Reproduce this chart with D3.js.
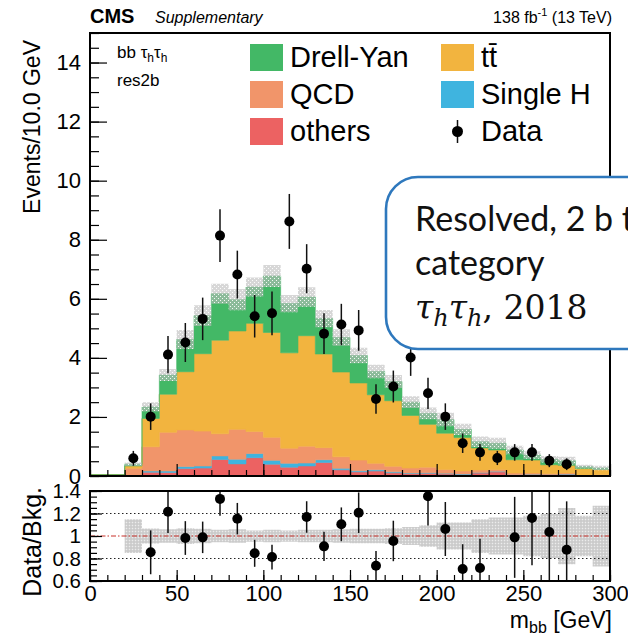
<!DOCTYPE html>
<html>
<head>
<meta charset="utf-8">
<script src="https://cdn.jsdelivr.net/npm/d3@7"></script>
<style>
  body { margin: 0; background: #fff; }
  svg { display: block; font-family: "Liberation Sans", Arial, sans-serif; }
</style>
</head>
<body>
<svg id="chart"></svg>
<script>
// bins of m_bb (lower edges, GeV), 10 GeV wide
const binLow = [0, 10, 20, 30, 40, 50, 60, 70, 80, 90, 100, 110, 120, 130, 140,
                150, 160, 170, 180, 190, 200, 210, 220, 230, 240, 250, 260, 270, 280, 290];

// background contributions per bin (events / 10 GeV)
const others   = [0.04, 0.04, 0.02, 0.13, 0.12, 0.25, 0.27, 0.56, 0.41, 0.62, 0.40, 0.30, 0.34, 0.46, 0.21,
                  0.14, 0.17, 0.11, 0.08, 0.09, 0.07, 0.05, 0.10, 0.14, 0.03, 0.05, 0.04, 0.06, 0.01, 0.02];
const singleH  = [0, 0, 0, 0.04, 0.05, 0.07, 0.07, 0.12, 0.16, 0.14, 0.13, 0.13, 0.10, 0.09, 0.05,
                  0.04, 0.04, 0.03, 0.02, 0.02, 0.02, 0.02, 0.02, 0.02, 0.01, 0.01, 0.01, 0.01, 0, 0];
const qcd      = [0, 0, 0.24, 0.82, 1.31, 1.24, 1.18, 0.75, 1.01, 0.75, 0.78, 0.51, 0.57, 0.41, 0.39,
                  0.36, 0.22, 0.19, 0.17, 0.19, 0.13, 0.10, 0.08, 0.06, 0.06, 0.04, 0.03, 0.03, 0.02, 0.02];
const ttbar    = [0, 0, 0.08, 0.96, 1.29, 1.97, 2.62, 3.17, 3.33, 3.66, 3.55, 3.23, 3.74, 3.17, 2.87,
                  2.61, 2.32, 2.22, 1.78, 1.45, 1.23, 1.13, 0.75, 0.66, 0.45, 0.44, 0.30, 0.26, 0.22, 0.18];
const drellYan = [0, 0, 0.06, 0.39, 0.65, 1.09, 1.29, 1.57, 1.06, 1.23, 1.91, 1.67, 1.31, 1.20, 1.17,
                  0.93, 0.79, 0.65, 0.45, 0.37, 0.46, 0.28, 0.21, 0.23, 0.33, 0.17, 0.19, 0.16, 0.07, 0.05];

// relative background uncertainty
const bkgRelUnc = [null, null, 0.15, 0.066, 0.06, 0.07, 0.065, 0.055, 0.06, 0.05, 0.055, 0.05, 0.055, 0.055, 0.06,
                   0.065, 0.065, 0.07, 0.08, 0.095, 0.12, 0.12, 0.15, 0.165, 0.165, 0.18, 0.195, 0.25, 0.18, 0.27];

// observed data
const dataVal = [null, null, 0.60, 2.01, 4.11, 4.52, 5.32, 8.14, 6.82, 5.41, 5.51, 8.62, 7.02, 4.82, 5.13,
                 4.93, 2.61, 3.03, 4.01, 2.80, 2.01, 1.11, 0.80, 0.61, 0.80, 0.80, 0.52, 0.40, null, null];
const dataErr = [null, null, 0.25, 0.45, 0.63, 0.66, 0.72, 0.89, 0.81, 0.72, 0.74, 0.93, 0.83, 0.69, 0.70,
                 0.69, 0.50, 0.54, 0.62, 0.53, 0.45, 0.33, 0.28, 0.24, 0.28, 0.28, 0.22, 0.20, null, null];

// data / background (points outside the pad are not drawn)
const ratioVal = [null, null, null, 0.855, 1.216, 0.982, 0.988, 1.33, 1.154, 0.846, 0.813, null, 1.169, 0.908, 1.104,
                  1.207, 0.736, 0.956, null, 1.353, 1.062, 0.707, 0.716, null, 0.988, 1.16, 1.036, 0.878, null, null];
const ratioErr = [null, null, null, 0.195, 0.19, 0.15, 0.14, 0.15, 0.14, 0.12, 0.11, null, 0.14, 0.13, 0.15,
                  0.18, 0.13, 0.18, null, 0.26, 0.24, 0.22, 0.26, null, 0.36, 0.42, 0.45, 0.43, null, null];

// axis ticks
const yTicks = [0, 2, 4, 6, 8, 10, 12, 14];
const xTicks = [0, 50, 100, 150, 200, 250, 300];
const ratioTicks = [0.6, 0.8, 1, 1.2, 1.4];
const ratioTickLabels = ["0.6", "0.8", "1", "1.2", "1.4"];

const seriesKeys = ["others", "singleH", "qcd", "ttbar", "drellYan"];
const seriesColor = {
    others: "#ec6262",
    singleH: "#3fb4df",
    qcd: "#f1956a",
    ttbar: "#f2b43f",
    drellYan: "#43b866"
};

const width = 628, height = 638;
const svg = d3.select("#chart").attr("width", width).attr("height", height);
svg.append("rect").attr("width", width).attr("height", height).attr("fill", "#fff");

const frame = { left: 90, right: 610, top: 33, bottom: 476 };
const rFrame = { top: 491, bottom: 581 };

const x = d3.scaleLinear().domain([0, 300]).range([frame.left, frame.right]);
const y = d3.scaleLinear().domain([0, 15]).range([frame.bottom, frame.top]);
const yr = d3.scaleLinear().domain([0.6, 1.4]).range([rFrame.bottom, rFrame.top]);

// patterns for the uncertainty bands
const defs = svg.append("defs");
const pat = defs.append("pattern").attr("id", "unc")
    .attr("width", 4).attr("height", 4).attr("patternUnits", "userSpaceOnUse");
pat.append("rect").attr("width", 4).attr("height", 4).attr("fill", "#bdbdbd").attr("opacity", 0.6);
pat.append("rect").attr("x", 0).attr("y", 0).attr("width", 1).attr("height", 1).attr("fill", "#fff").attr("opacity", 0.9);
pat.append("rect").attr("x", 2).attr("y", 2).attr("width", 1).attr("height", 1).attr("fill", "#fff").attr("opacity", 0.9);
const patR = defs.append("pattern").attr("id", "uncR")
    .attr("width", 3).attr("height", 3).attr("patternUnits", "userSpaceOnUse");
patR.append("rect").attr("width", 3).attr("height", 3).attr("fill", "#d2d2d2");
patR.append("rect").attr("x", 0).attr("y", 0).attr("width", 1).attr("height", 1).attr("fill", "#ececec");
patR.append("rect").attr("x", 1.5).attr("y", 1.5).attr("width", 1).attr("height", 1).attr("fill", "#b8b8b8");

defs.append("clipPath").attr("id", "clipR").append("rect")
    .attr("x", frame.left).attr("y", rFrame.top)
    .attr("width", frame.right - frame.left).attr("height", rFrame.bottom - rFrame.top);
defs.append("clipPath").attr("id", "clipM").append("rect")
    .attr("x", frame.left).attr("y", frame.top)
    .attr("width", frame.right - frame.left).attr("height", frame.bottom - frame.top);

// Stack the backgrounds
const table = binLow.map((lo, i) => ({
    lo, hi: lo + 10,
    others: others[i], singleH: singleH[i], qcd: qcd[i], ttbar: ttbar[i], drellYan: drellYan[i]
}));
const stacked = d3.stack().keys(seriesKeys)(table);

const stepArea = d3.area()
    .defined(p => p.ok)
    .x(p => x(p.x))
    .y0(p => y(p.y0))
    .y1(p => y(p.y1));

const stepPoints = layer => layer.flatMap(d => [
    { x: d.data.lo, y0: d[0], y1: d[1], ok: true },
    { x: d.data.hi, y0: d[0], y1: d[1], ok: true }
]);

const main = svg.append("g").attr("clip-path", "url(#clipM)");
main.selectAll("path.layer")
    .data(stacked)
    .join("path")
    .attr("class", "layer")
    .attr("fill", d => seriesColor[d.key])
    .attr("stroke", d => seriesColor[d.key])
    .attr("stroke-width", 0.6)
    .attr("d", d => stepArea(stepPoints(d)));

// uncertainty band on total background
const totals = stacked[stacked.length - 1].map(d => d[1]);
const bandPts = binLow.flatMap((lo, i) => {
    const u = bkgRelUnc[i];
    const ok = u != null;
    const t = totals[i];
    return [
        { x: lo, y0: ok ? t * (1 - u) : 0, y1: ok ? t * (1 + u) : 0, ok },
        { x: lo + 10, y0: ok ? t * (1 - u) : 0, y1: ok ? t * (1 + u) : 0, ok }
    ];
});
main.append("path").attr("fill", "url(#unc)").attr("d", stepArea(bandPts));

// data points
const dataPts = binLow.map((lo, i) => ({ xc: lo + 5, v: dataVal[i], e: dataErr[i] })).filter(d => d.v != null);
const dataG = main.append("g");
dataG.selectAll("line")
    .data(dataPts)
    .join("line")
    .attr("x1", d => x(d.xc)).attr("x2", d => x(d.xc))
    .attr("y1", d => y(d.v - d.e)).attr("y2", d => y(d.v + d.e))
    .attr("stroke", "#111").attr("stroke-width", 1.5);
dataG.selectAll("circle")
    .data(dataPts)
    .join("circle")
    .attr("cx", d => x(d.xc)).attr("cy", d => y(d.v))
    .attr("r", 5).attr("fill", "#000");

// Main axes (ticks pointing inward)
const tickFont = 22;
svg.append("g").attr("class", "ax-main").attr("transform", `translate(${frame.left},0)`)
    .call(d3.axisLeft(y).tickValues(yTicks).tickSizeInner(-17).tickSizeOuter(0).tickPadding(9));
svg.append("g").attr("transform", `translate(${frame.left},0)`)
    .call(d3.axisLeft(y).tickValues(d3.range(0, 15.01, 0.5)).tickSizeInner(-9).tickSizeOuter(0).tickFormat(""));
svg.append("g").attr("transform", `translate(0,${frame.bottom})`)
    .call(d3.axisBottom(x).tickValues(xTicks).tickSizeInner(-12).tickSizeOuter(0).tickFormat(""));
svg.append("g").attr("transform", `translate(0,${frame.bottom})`)
    .call(d3.axisBottom(x).tickValues(d3.range(0, 301, 10)).tickSizeInner(-6).tickSizeOuter(0).tickFormat(""));

// Ratio pad
const ratio = svg.append("g");
const rBandPts = binLow.flatMap((lo, i) => {
    const u = bkgRelUnc[i];
    const ok = u != null;
    return [
        { x: lo, y0: ok ? 1 - u : 1, y1: ok ? 1 + u : 1, ok },
        { x: lo + 10, y0: ok ? 1 - u : 1, y1: ok ? 1 + u : 1, ok }
    ];
});
ratio.append("path")
    .attr("clip-path", "url(#clipR)")
    .attr("fill", "url(#uncR)")
    .attr("d", d3.area().defined(p => p.ok).x(p => x(p.x)).y0(p => yr(p.y0)).y1(p => yr(p.y1))(rBandPts));

[0.8, 1.2].forEach(v => {
    ratio.append("line")
        .attr("x1", frame.left).attr("x2", frame.right)
        .attr("y1", yr(v)).attr("y2", yr(v))
        .attr("stroke", "#222").attr("stroke-width", 1).attr("stroke-dasharray", "1.5,2.5");
});
ratio.append("line")
    .attr("x1", frame.left).attr("x2", frame.right)
    .attr("y1", yr(1)).attr("y2", yr(1))
    .attr("stroke", "#c8302a").attr("stroke-width", 1).attr("stroke-dasharray", "5,2,1.5,2");

const rPts = binLow.map((lo, i) => ({ xc: lo + 5, v: ratioVal[i], e: ratioErr[i] })).filter(d => d.v != null);
const rG = ratio.append("g").attr("clip-path", "url(#clipR)");
rG.selectAll("line")
    .data(rPts)
    .join("line")
    .attr("x1", d => x(d.xc)).attr("x2", d => x(d.xc))
    .attr("y1", d => yr(d.v - d.e)).attr("y2", d => yr(d.v + d.e))
    .attr("stroke", "#111").attr("stroke-width", 1.5);
rG.selectAll("circle")
    .data(rPts)
    .join("circle")
    .attr("cx", d => x(d.xc)).attr("cy", d => yr(d.v))
    .attr("r", 5).attr("fill", "#000");

svg.append("g").attr("class", "ax-ratio").attr("transform", `translate(${frame.left},0)`)
    .call(d3.axisLeft(yr).tickValues(ratioTicks).tickSizeInner(-12).tickSizeOuter(0).tickPadding(9)
        .tickFormat((d, i) => ratioTickLabels[i]));
svg.append("g").attr("transform", `translate(${frame.left},0)`)
    .call(d3.axisLeft(yr).tickValues(d3.range(0.6, 1.401, 0.05)).tickSizeInner(-7).tickSizeOuter(0).tickFormat(""));
svg.append("g").attr("transform", `translate(0,${rFrame.bottom})`)
    .call(d3.axisBottom(x).tickValues(xTicks).tickSizeInner(-11).tickSizeOuter(0).tickPadding(4));
svg.append("g").attr("transform", `translate(0,${rFrame.bottom})`)
    .call(d3.axisBottom(x).tickValues(d3.range(0, 301, 10)).tickSizeInner(-6).tickSizeOuter(0).tickFormat(""));

svg.selectAll(".domain").remove();
svg.selectAll(".tick line").attr("stroke", "#000").attr("stroke-width", 1.2);
svg.selectAll(".tick text").attr("font-size", tickFont).attr("fill", "#000")
    .attr("font-family", "'Liberation Sans', Arial, sans-serif");
svg.selectAll(".ax-ratio .tick text").attr("font-size", 20.5);

// frames
svg.append("rect")
    .attr("x", frame.left).attr("y", frame.top)
    .attr("width", frame.right - frame.left).attr("height", frame.bottom - frame.top)
    .attr("fill", "none").attr("stroke", "#000").attr("stroke-width", 2);
svg.append("rect")
    .attr("x", frame.left).attr("y", rFrame.top)
    .attr("width", frame.right - frame.left).attr("height", rFrame.bottom - rFrame.top)
    .attr("fill", "none").attr("stroke", "#000").attr("stroke-width", 2);

// axis titles
svg.append("text")
    .attr("transform", `translate(40,${frame.top + 7}) rotate(-90)`)
    .attr("text-anchor", "end").attr("font-size", 23)
    .text("Events/10.0 GeV");
svg.append("text")
    .attr("transform", `translate(41,${rFrame.top - 4}) rotate(-90)`)
    .attr("text-anchor", "end").attr("font-size", 25)
    .text("Data/Bkg.");
const xt = svg.append("text")
    .attr("x", 612).attr("y", 628).attr("text-anchor", "end").attr("font-size", 23);
xt.append("tspan").text("m");
xt.append("tspan").attr("font-size", 16).attr("dy", 5).text("bb");
xt.append("tspan").attr("dy", -5).text(" [GeV]");

// header
svg.append("text").attr("x", 90).attr("y", 23).attr("font-size", 20).attr("font-weight", "bold").text("CMS");
svg.append("text").attr("x", 155).attr("y", 23).attr("font-size", 16).attr("font-style", "italic").text("Supplementary");
const lumi = svg.append("text").attr("x", 612).attr("y", 23).attr("text-anchor", "end").attr("font-size", 16);
lumi.append("tspan").text("138 fb");
lumi.append("tspan").attr("font-size", 11).attr("dy", -7).text("-1");
lumi.append("tspan").attr("dy", 7).text(" (13 TeV)");

// channel label
const ch = svg.append("text").attr("x", 117).attr("y", 58).attr("font-size", 17);
ch.append("tspan").text("bb τ");
ch.append("tspan").attr("font-size", 12).attr("dy", 4).text("h");
ch.append("tspan").attr("dy", -4).text("τ");
ch.append("tspan").attr("font-size", 12).attr("dy", 4).text("h");
svg.append("text").attr("x", 117).attr("y", 86).attr("font-size", 17).text("res2b");

// Legend
const legendItems = [
    { label: "Drell-Yan", key: "drellYan", col: 0, row: 0 },
    { label: "tt\u0304", key: "ttbar", col: 1, row: 0 },
    { label: "QCD", key: "qcd", col: 0, row: 1 },
    { label: "Single H", key: "singleH", col: 1, row: 1 },
    { label: "others", key: "others", col: 0, row: 2 },
    { label: "Data", key: null, col: 1, row: 2 }
];
const legend = svg.append("g");
legendItems.forEach(it => {
    const bx = it.col === 0 ? 250 : 441;
    const by = 44 + it.row * 37;
    if (it.key) {
        legend.append("rect").attr("x", bx).attr("y", by).attr("width", 33).attr("height", 27)
            .attr("fill", seriesColor[it.key]);
    } else {
        legend.append("line").attr("x1", bx + 16.5).attr("x2", bx + 16.5)
            .attr("y1", by + 2).attr("y2", by + 25).attr("stroke", "#111").attr("stroke-width", 1.5);
        legend.append("circle").attr("cx", bx + 16.5).attr("cy", by + 13.5).attr("r", 5.5).attr("fill", "#000");
    }
    legend.append("text").attr("x", bx + 40).attr("y", by + 23).attr("font-size", 29).text(it.label);
});

// Callout box
const call = svg.append("g");
call.append("rect")
    .attr("x", 386).attr("y", 177).attr("width", 330).attr("height", 172)
    .attr("rx", 32).attr("ry", 32)
    .attr("fill", "#fff").attr("stroke", "#2e78bd").attr("stroke-width", 2.6);
call.append("text").attr("x", 415).attr("y", 231).attr("font-size", 34)
    .attr("font-family", "Lato, 'Open Sans', sans-serif").attr("fill", "#111")
    .text("Resolved, 2 b tag");
call.append("text").attr("x", 415).attr("y", 275).attr("font-size", 34)
    .attr("font-family", "Lato, 'Open Sans', sans-serif").attr("fill", "#111")
    .text("category");
const l3 = call.append("text").attr("x", 415).attr("y", 319).attr("font-size", 33)
    .attr("font-family", "'DejaVu Serif', serif").attr("fill", "#111");
l3.append("tspan").attr("font-style", "italic").text("τ");
l3.append("tspan").attr("font-style", "italic").attr("font-size", 24).attr("dy", 7).text("h");
l3.append("tspan").attr("font-style", "italic").attr("dy", -7).text("τ");
l3.append("tspan").attr("font-style", "italic").attr("font-size", 24).attr("dy", 7).text("h");
l3.append("tspan").attr("dy", -7).text(", 2018");
</script>
</body>
</html>
